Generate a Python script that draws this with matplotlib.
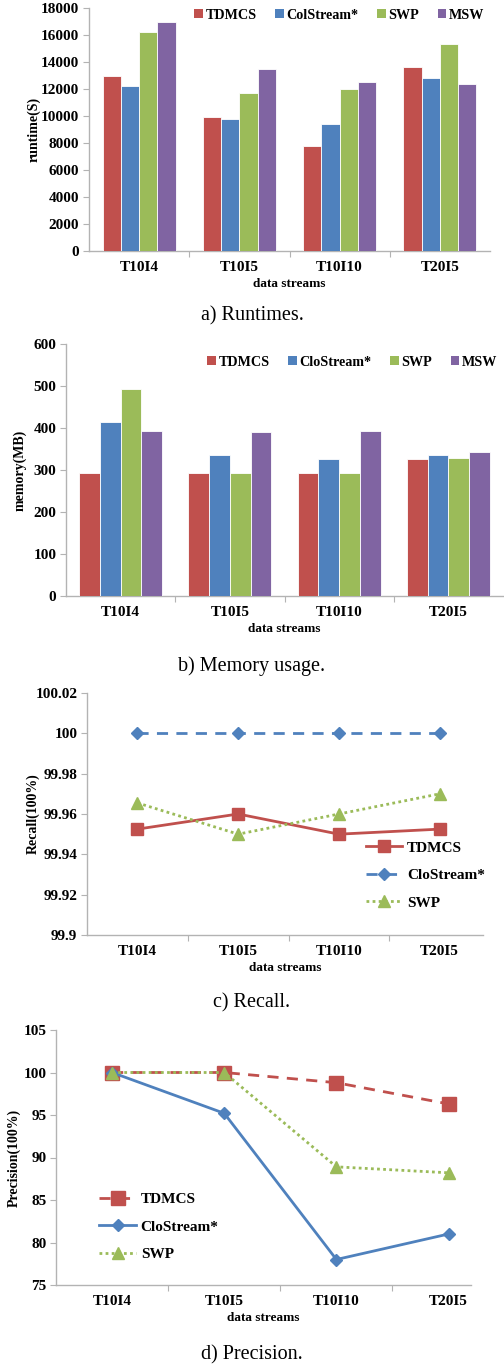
import numpy as np
from matplotlib import pyplot as plt
from matplotlib.patches import Patch

# data
streams = ["T10I4", "T10I5", "T10I10", "T20I5"]

runtime_tdmcs = [13000, 9900, 7750, 13600]
runtime_clo = [12200, 9750, 9420, 12820]
runtime_swp = [16250, 11670, 12000, 15360]
runtime_msw = [17000, 13450, 12500, 12400]

memory_tdmcs = [293, 293, 294, 327]
memory_clo = [415, 335, 327, 335]
memory_swp = [493, 294, 292, 328]
memory_msw = [393, 390, 393, 342]

recall_tdmcs = [99.9525, 99.96, 99.95, 99.9525]
recall_clo = [100.0, 100.0, 100.0, 100.0]
recall_swp = [99.9655, 99.95, 99.96, 99.97]

precision_tdmcs = [100.0, 100.0, 98.8, 96.3]
precision_clo = [100.0, 95.2, 78.0, 81.0]
precision_swp = [100.0, 100.0, 88.9, 88.2]

RED = "#C0504D"
BLUE = "#4F81BD"
GREEN = "#9BBB59"
PURPLE = "#8064A2"
AXIS = "#B3B3B3"

W, H = 504, 1366
plt.rcParams['font.family'] = ['Liberation Serif', 'DejaVu Serif']
fig = plt.figure(figsize=(W / 100, H / 100), dpi=100)


def make_axes(left, right, top, bottom):
    return fig.add_axes([left / W, 1 - bottom / H, (right - left) / W, (bottom - top) / H])


def style(ax, xmax, ylabel, ylabel_x):
    for s in ["top", "right"]:
        ax.spines[s].set_visible(False)
    for s in ["left", "bottom"]:
        ax.spines[s].set_color(AXIS)
        ax.spines[s].set_linewidth(1.0)
    ax.set_xlim(0, xmax)
    ax.set_xticks([1, 2, 3])
    ax.set_xticklabels([])
    ax.set_xticks([0.5, 1.5, 2.5, 3.5], minor=True)
    ax.set_xticklabels(streams, minor=True, fontweight="bold", fontsize=11)
    ax.tick_params(axis="x", which="major", length=4, color=AXIS, direction="out")
    ax.tick_params(axis="x", which="minor", length=0, pad=7)
    ax.tick_params(axis="y", length=4, color=AXIS, labelsize=11, pad=3)
    for t in ax.get_yticklabels():
        t.set_fontweight("bold")
    ax.set_ylabel(ylabel, fontweight="bold", fontsize=10)
    ax.yaxis.set_label_coords(ylabel_x, 0.5)
    ax.set_xlabel("data streams", fontweight="bold", fontsize=9.5, labelpad=3)


def bars(ax, series, width):
    x = np.arange(4) + 0.5
    colors = [RED, BLUE, GREEN, PURPLE]
    for i, (vals, c) in enumerate(zip(series, colors)):
        ax.bar(x + (i - 1.5) * width, vals, width, color=c, edgecolor="white", linewidth=0.6, zorder=3)


def bar_legend(ax, names, anchor):
    handles = [Patch(facecolor=c, edgecolor="none") for c in [RED, BLUE, GREEN, PURPLE]]
    ax.legend(handles, names, loc="upper right", bbox_to_anchor=anchor, ncol=4, frameon=False,
              handlelength=0.6, handleheight=0.6, handletextpad=0.2, columnspacing=1.3,
              prop={"weight": "bold", "size": 10.2}, borderaxespad=0)


# a) runtimes
ax1 = make_axes(89, 490, 8, 251)
bars(ax1, [runtime_tdmcs, runtime_clo, runtime_swp, runtime_msw], 0.182)
ax1.set_ylim(0, 18000)
ax1.set_yticks(np.arange(0, 18001, 2000))
style(ax1, 4, "runtime(S)", -0.12)
bar_legend(ax1, ["TDMCS", "ColStream*", "SWP", "MSW"], (1.0, 1.02))
fig.text(0.5, 1 - 316 / H, "a) Runtimes.", ha="center", va="center", fontsize=14.5)

# b) memory usage
ax2 = make_axes(66, 503, 344, 596)
bars(ax2, [memory_tdmcs, memory_clo, memory_swp, memory_msw], 0.19)
ax2.set_ylim(0, 600)
ax2.set_yticks(np.arange(0, 601, 100))
style(ax2, 4, "memory(MB)", -0.09)
bar_legend(ax2, ["TDMCS", "CloStream*", "SWP", "MSW"], (1.0, 0.975))
fig.text(0.5, 1 - 666 / H, "b) Memory usage.", ha="center", va="center", fontsize=14.5)

# c) recall
ax3 = make_axes(87, 483, 693, 935)
x = np.arange(4) + 0.5
ax3.plot(x, recall_tdmcs, color=RED, lw=2, marker="s", ms=9, label="TDMCS", zorder=3)
ax3.plot(x, recall_clo, color=BLUE, lw=2, ls=(0, (4, 3)), marker="D", ms=6, label="CloStream*", zorder=3)
ax3.plot(x, recall_swp, color=GREEN, lw=2, ls=(0, (1, 1.2)), marker="^", ms=9, label="SWP", zorder=3)
ax3.set_ylim(99.9, 100.02)
ax3.set_yticks([99.9, 99.92, 99.94, 99.96, 99.98, 100.0, 100.02])
ax3.set_yticklabels(["99.9", "99.92", "99.94", "99.96", "99.98", "100", "100.02"])
style(ax3, 3.93, "Recall(100%)", -0.12)
ax3.legend(loc="lower right", bbox_to_anchor=(1.02, 0.08), frameon=False, handlelength=2.4,
           handletextpad=0.3, labelspacing=0.9, prop={"weight": "bold", "size": 11}, borderaxespad=0)
fig.text(0.5, 1 - 1003 / H, "c) Recall.", ha="center", va="center", fontsize=14.5)

# d) precision
ax4 = make_axes(56, 471, 1030, 1285)
ax4.plot(x, precision_tdmcs, color=RED, lw=2, ls=(0, (4, 3)), marker="s", ms=10, label="TDMCS", zorder=3)
ax4.plot(x, precision_clo, color=BLUE, lw=2, marker="D", ms=6, label="CloStream*", zorder=3)
ax4.plot(x, precision_swp, color=GREEN, lw=2, ls=(0, (1, 1.2)), marker="^", ms=9, label="SWP", zorder=4)
ax4.set_ylim(75, 105)
ax4.set_yticks(np.arange(75, 106, 5))
style(ax4, 3.70, "Precision(100%)", -0.085)
ax4.legend(loc="lower left", bbox_to_anchor=(0.09, 0.07), frameon=False, handlelength=2.4,
           handletextpad=0.3, labelspacing=0.9, prop={"weight": "bold", "size": 11}, borderaxespad=0)
fig.text(0.5, 1 - 1355 / H, "d) Precision.", ha="center", va="center", fontsize=14.5)

fig.savefig("out.png", dpi=100)
